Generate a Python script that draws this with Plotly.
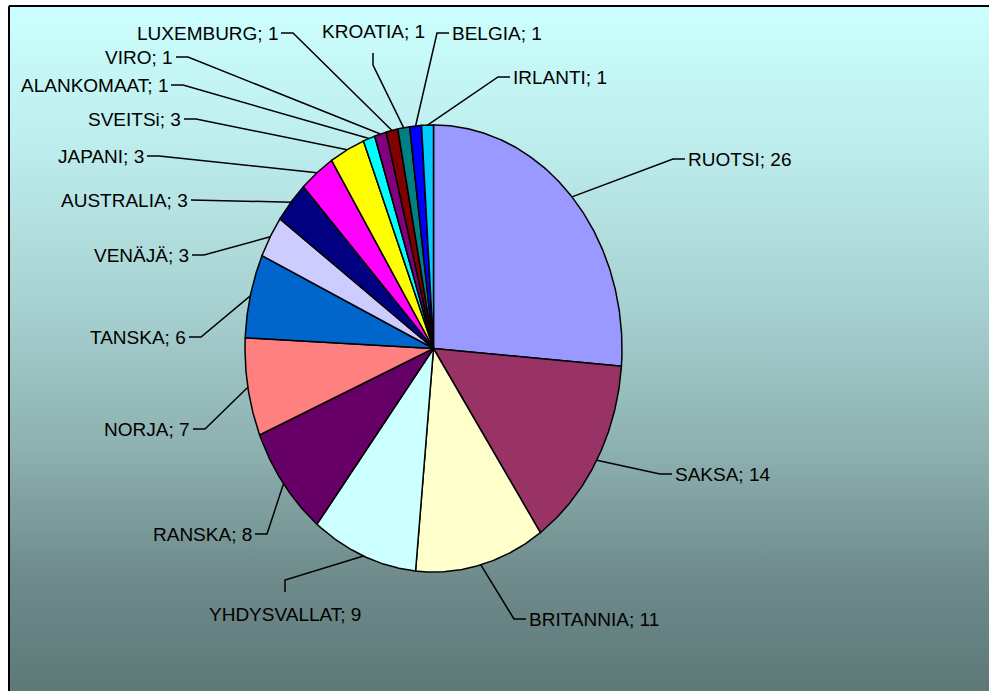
import numpy as np
import plotly.graph_objects as go

# ---------------- data ----------------
countries = ["RUOTSI", "SAKSA", "BRITANNIA", "YHDYSVALLAT", "RANSKA", "NORJA",
             "TANSKA", "VENÄJÄ", "AUSTRALIA", "JAPANI", "SVEITSi", "ALANKOMAAT",
             "VIRO", "LUXEMBURG", "KROATIA", "BELGIA", "IRLANTI"]
values = [26, 14, 11, 9, 8, 7, 6, 3, 3, 3, 3, 1, 1, 1, 1, 1, 1]
colors = ["#9999FF", "#993366", "#FFFFCC", "#CCFFFF", "#660066", "#FF8080",
          "#0066CC", "#CCCCFF", "#000080", "#FF00FF", "#FFFF00", "#00FFFF",
          "#800080", "#800000", "#008080", "#0000FF", "#00CCFF"]

# ---------------- layout (pixel geometry) ----------------
W, H = 989, 691
CX, CY = 433.5, 348.5      # pie centre in pixels
RX, RY = 188.5, 223.5      # pie radii in pixels (stretched pie)

# label elbows: (side of text, elbow x px, elbow y px)
label_layout = [
    ("R", 673, 159), ("R", 660, 474), ("R", 514, 619), ("B", 285, 580),
    ("L", 267, 534), ("L", 205, 429), ("L", 201, 337), ("L", 204, 255),
    ("L", 203, 200), ("L", 159, 156), ("L", 196, 119), ("L", 183, 85),
    ("L", 188, 57), ("L", 293, 33), ("T", 373, 65), ("R", 437, 33),
    ("R", 498, 77),
]
TICK = 12
FONT = dict(family="Liberation Sans Narrow, Arial Narrow, Liberation Sans, Arial, sans-serif",
            size=19, color="black")
BG_TOP, BG_BOTTOM = 6, 692


def px(x):
    return (x - CX) / RX


def py(y):
    return (CY - y) / RY


def frac(y):
    # position of pixel row y inside the background gradient (0 = bottom)
    return (BG_BOTTOM - y) / (BG_BOTTOM - BG_TOP)


bg_scale = [[0, "#5E7878"], [frac(580), "#6E8A8A"], [frac(450), "#8DB0B0"],
            [frac(300), "#A8D2D2"], [frac(150), "#BDECEC"], [1, "#CCFFFF"]]

fig = go.Figure()

# background with vertical gradient and frame
fig.add_trace(go.Scatter(
    x=[px(9), px(1100), px(1100), px(9), px(9)],
    y=[py(BG_TOP), py(BG_TOP), py(BG_BOTTOM), py(BG_BOTTOM), py(BG_TOP)],
    mode="lines", fill="toself",
    fillgradient=dict(type="vertical", colorscale=bg_scale),
    line=dict(color="black", width=2),
    hoverinfo="skip", showlegend=False))

# slices
total = sum(values)
cum = np.cumsum([0] + values)
for i, (name, v, c) in enumerate(zip(countries, values, colors)):
    a0 = 90 - cum[i] / total * 360
    a1 = 90 - cum[i + 1] / total * 360
    n = max(3, int(abs(a1 - a0) * 2))
    th = np.radians(np.linspace(a0, a1, n))
    xs = np.concatenate([[0], np.cos(th), [0]])
    ys = np.concatenate([[0], np.sin(th), [0]])
    fig.add_trace(go.Scatter(x=xs, y=ys, mode="lines", fill="toself",
                             fillcolor=c, line=dict(color="black", width=1.5),
                             name=name, hoverinfo="name", showlegend=False))

# leader lines and labels
for i, (name, v) in enumerate(zip(countries, values)):
    mid = np.radians(90 - (cum[i] + v / 2) / total * 360)
    ex, ey = np.cos(mid), np.sin(mid)
    side, lx, ly = label_layout[i]
    if side == "R":
        tx, ty = lx + TICK, ly
        ann = dict(x=px(tx + 1), y=py(ly), xanchor="left", yanchor="middle")
    elif side == "L":
        tx, ty = lx - TICK, ly
        ann = dict(x=px(tx - 1), y=py(ly), xanchor="right", yanchor="middle")
    elif side == "B":
        tx, ty = lx, ly + TICK
        ann = dict(x=px(lx), y=py(ty + 10), xanchor="center", yanchor="top")
    else:
        tx, ty = lx, ly - TICK
        ann = dict(x=px(lx), y=py(ty - 9), xanchor="center", yanchor="bottom")
    fig.add_trace(go.Scatter(x=[ex, px(lx), px(tx)], y=[ey, py(ly), py(ty)],
                             mode="lines", line=dict(color="black", width=1.5),
                             hoverinfo="skip", showlegend=False))
    fig.add_annotation(text=f"{name}; {v}", showarrow=False, font=FONT,
                       xref="x", yref="y", **ann)

fig.update_xaxes(range=[px(0), px(W)], visible=False, fixedrange=True)
fig.update_yaxes(range=[py(H), py(0)], visible=False, fixedrange=True)
fig.update_layout(width=W, height=H, margin=dict(l=0, r=0, t=0, b=0),
                  paper_bgcolor="white", plot_bgcolor="white",
                  showlegend=False)

fig.write_html("out.html", config={"displayModeBar": False},
               post_script="document.body.style.margin='0';")
